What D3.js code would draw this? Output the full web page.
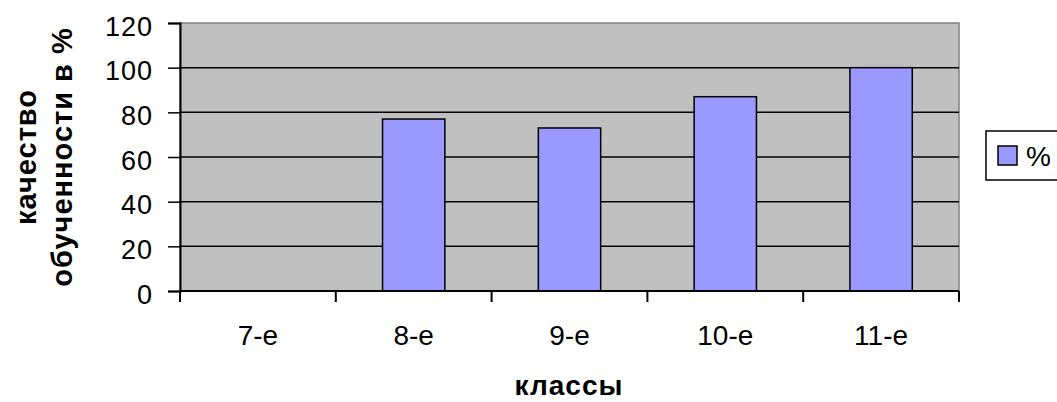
<!DOCTYPE html>
<html>
<head>
<meta charset="utf-8">
<script src="https://cdn.jsdelivr.net/npm/d3@7"></script>
<style>
  body { margin: 0; background: #fff; }
  text { font-family: "Liberation Sans", Arial, sans-serif; fill: #000; }
</style>
</head>
<body>
<svg width="1057" height="402"></svg>
<script>
var categories = ['7-е', '8-е', '9-е', '10-е', '11-е'];
var values = [0, 77, 73, 87, 100];
var yTicks = [0, 20, 40, 60, 80, 100, 120];
var seriesName = '%';

var data = categories.map(function(c, i) {
    return {cat: c, value: values[i]};
});

var svg = d3.select('svg');

// plot area bounds
var plot = {l: 180, r: 959, t: 23, b: 291};

var xScale = d3.scaleBand()
    .domain(categories)
    .range([plot.l, plot.r])
    .paddingInner(0.6)
    .paddingOuter(0.3);

var xEdge = d3.scalePoint()
    .domain(d3.range(categories.length + 1))
    .range([plot.l, plot.r]);

var yScale = d3.scaleLinear()
    .domain([0, 120])
    .range([plot.b, plot.t]);

// background
svg.append('rect')
    .attr('x', plot.l).attr('y', plot.t)
    .attr('width', plot.r - plot.l).attr('height', plot.b - plot.t)
    .attr('fill', '#c0c0c0')
    .attr('stroke', '#808080').attr('stroke-width', 1.5);

// gridlines
svg.append('g').selectAll('line')
    .data(yTicks.filter(function(d) { return d > 0 && d < 120; }))
    .enter().append('line')
    .attr('x1', plot.l).attr('x2', plot.r)
    .attr('y1', function(d) { return yScale(d); })
    .attr('y2', function(d) { return yScale(d); })
    .attr('stroke', '#000').attr('stroke-width', 1.5);

// bars
svg.append('g').selectAll('rect')
    .data(data.filter(function(d) { return d.value > 0; }))
    .enter().append('rect')
    .attr('x', function(d) { return xScale(d.cat); })
    .attr('y', function(d) { return yScale(d.value); })
    .attr('width', xScale.bandwidth())
    .attr('height', function(d) { return yScale(0) - yScale(d.value); })
    .attr('fill', '#9999ff')
    .attr('stroke', '#000').attr('stroke-width', 1.5);

// y axis
var yAxis = svg.append('g')
    .attr('transform', 'translate(' + plot.l + ',0)')
    .call(d3.axisLeft(yScale).tickValues(yTicks).tickSize(12).tickPadding(15));
yAxis.select('.domain').attr('stroke', '#000').attr('stroke-width', 2);
yAxis.selectAll('.tick line').attr('stroke', '#000').attr('stroke-width', 1.5);
yAxis.selectAll('.tick text')
    .attr('dy', '0.45em')
    .style('font-size', '27px')
    .style('letter-spacing', '1px')
    .style('font-family', '"Liberation Sans", Arial, sans-serif');

// x axis baseline
svg.append('line')
    .attr('x1', plot.l).attr('x2', plot.r)
    .attr('y1', plot.b).attr('y2', plot.b)
    .attr('stroke', '#000').attr('stroke-width', 2);

// x category edge ticks
svg.append('g').selectAll('line')
    .data(xEdge.domain())
    .enter().append('line')
    .attr('x1', function(d) { return xEdge(d); })
    .attr('x2', function(d) { return xEdge(d); })
    .attr('y1', plot.b).attr('y2', plot.b + 11)
    .attr('stroke', '#000').attr('stroke-width', 2);

// x labels
svg.append('g').selectAll('text')
    .data(categories)
    .enter().append('text')
    .attr('x', function(d) { return xScale(d) + xScale.bandwidth() / 2; })
    .attr('y', 345)
    .attr('text-anchor', 'middle')
    .style('font-size', '28px')
    .text(function(d) { return d; });

// axis titles
svg.append('text')
    .attr('x', 569).attr('y', 395)
    .attr('text-anchor', 'middle')
    .style('font-size', '28px').style('font-weight', 'bold')
    .style('letter-spacing', '1px')
    .text('классы');

var yTitle = svg.append('text')
    .attr('transform', 'translate(36,157) rotate(-90)')
    .attr('text-anchor', 'middle')
    .style('font-size', '29px').style('font-weight', 'bold')
    .style('letter-spacing', '1px');
yTitle.append('tspan').attr('x', 0).attr('dy', 0).text('качество');
yTitle.append('tspan').attr('x', 0).attr('dy', 36).text('обученности в %');

// legend
var legend = svg.append('g');
legend.append('rect')
    .attr('x', 986).attr('y', 131)
    .attr('width', 80).attr('height', 49)
    .attr('fill', '#fff').attr('stroke', '#000').attr('stroke-width', 1.5);
legend.append('rect')
    .attr('x', 998).attr('y', 146)
    .attr('width', 19).attr('height', 19)
    .attr('fill', '#9999ff').attr('stroke', '#000').attr('stroke-width', 1.5);
legend.append('text')
    .attr('x', 1026).attr('y', 166)
    .style('font-size', '28px')
    .text(seriesName);
</script>
</body>
</html>
